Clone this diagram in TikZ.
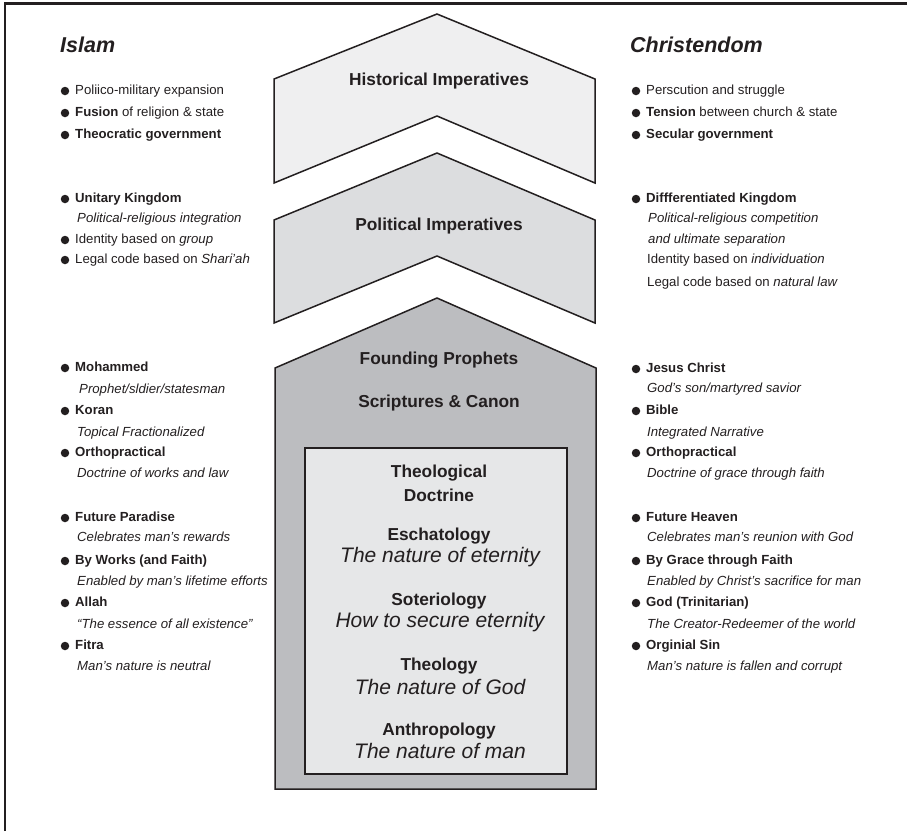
\documentclass[tikz,border=0pt]{standalone}
\usepackage{fontspec}
\setmainfont{Liberation Sans}
\definecolor{ink}{HTML}{231F20}
\definecolor{fillA}{HTML}{EFEFF0}
\definecolor{fillB}{HTML}{DCDDDF}
\definecolor{fillC}{HTML}{BCBDC0}
\definecolor{fillD}{HTML}{E6E7E8}
\newcommand\blt[4]{\node[bul] (#1b) at (#2,#3) {}; \node[lst] (#1) at (#2+10,#3) {#4};}
\newcommand\sub[4]{\node[lst] (#1) at (#2,#3) {#4};}
\begin{document}
\begin{tikzpicture}[x=1pt,y=-1pt,
  shp/.style={draw=ink, line width=1.5pt, line join=miter},
  lst/.style={anchor=west, inner sep=0pt, text=ink, font=\fontsize{13.2}{15}\selectfont, text height=9.5pt, text depth=2.5pt},
  bul/.style={circle, fill=ink, inner sep=0pt, minimum size=8.5pt},
  ttl/.style={anchor=west, inner sep=0pt, text=ink, font=\fontsize{21.5}{24}\selectfont\bfseries\itshape},
  hdr/.style={inner sep=0pt, text=ink, font=\fontsize{17.3}{20}\selectfont\bfseries},
  itl/.style={inner sep=0pt, text=ink, font=\fontsize{21}{24}\selectfont\itshape}]
\useasboundingbox (0,0) rectangle (907,831);
% frame
\draw[line width=2.2pt, ink] (5,831) -- (5,3.5) -- (907,3.5);
% shapes
\draw[shp, fill=fillA] (274,79) -- (437,14) -- (595,79) -- (595,183) -- (437,116) -- (274,183) -- cycle;
\draw[shp, fill=fillB] (274,220) -- (437,153) -- (595,220) -- (595,323) -- (437,256) -- (274,323) -- cycle;
\draw[shp, fill=fillC] (275,368) -- (437,298) -- (596,368) -- (596,789) -- (275,789) -- cycle;
\draw[shp, fill=fillD] (305,448) rectangle (567,774);
% center texts
\node[hdr] (hist) at (439,81) {Historical Imperatives};
\node[hdr] (pol) at (439,226) {Political Imperatives};
\node[hdr] (found) at (439,360) {Founding Prophets};
\node[hdr] (scr) at (439,403) {Scriptures \& Canon};
\node[hdr] (theo1) at (439,473) {Theological};
\node[hdr] (theo2) at (439,495) {Doctrine};
\node[hdr] (esc) at (439,536) {Eschatology};
\node[itl] (escI) at (440,557) {The nature of eternity};
\node[hdr] (sot) at (439,601) {Soteriology};
\node[itl] (sotI) at (440,622) {How to secure eternity};
\node[hdr] (thl) at (439,666) {Theology};
\node[itl] (thlI) at (440,687) {The nature of God};
\node[hdr] (ant) at (439,731) {Anthropology};
\node[itl] (antI) at (440,751) {The nature of man};
% titles
\node[ttl] (islam) at (60,45) {Islam};
\node[ttl] (chr) at (630,45) {Christendom};
% left column
\blt{l1}{65}{91}{Poliico-military expansion}
\blt{l2}{65}{113}{\textbf{Fusion} of religion \& state}
\blt{l3}{65}{135}{\textbf{Theocratic government}}
\blt{l4}{65}{199}{\textbf{Unitary Kingdom}}
\sub{l5}{77}{219}{\textit{Political-religious integration}}
\blt{l6}{65}{240}{Identity based on \textit{group}}
\blt{l7}{65}{260}{Legal code based on \textit{Shari’ah}}
\blt{l8}{65}{368}{\textbf{Mohammed}}
\sub{l9}{79}{390}{\textit{Prophet/sldier/statesman}}
\blt{l10}{65}{411}{\textbf{Koran}}
\sub{l11}{77}{433}{\textit{Topical Fractionalized}}
\blt{l12}{65}{453}{\textbf{Orthopractical}}
\sub{l13}{77}{474}{\textit{Doctrine of works and law}}
\blt{l14}{65}{518}{\textbf{Future Paradise}}
\sub{l15}{77}{538}{\textit{Celebrates man’s rewards}}
\blt{l16}{65}{561}{\textbf{By Works (and Faith)}}
\sub{l17}{77}{582}{\textit{Enabled by man’s lifetime efforts}}
\blt{l18}{65}{603}{\textbf{Allah}}
\sub{l19}{77}{625}{\textit{“The essence of all existence”}}
\blt{l20}{65}{646}{\textbf{Fitra}}
\sub{l21}{77}{667}{\textit{Man’s nature is neutral}}
% right column
\blt{r1}{636}{91}{Perscution and struggle}
\blt{r2}{636}{113}{\textbf{Tension} between church \& state}
\blt{r3}{636}{135}{\textbf{Secular government}}
\blt{r4}{636}{199}{\textbf{Diffferentiated Kingdom}}
\sub{r5}{648}{219}{\textit{Political-religious competition}}
\sub{r6}{648}{240}{\textit{and ultimate separation}}
\sub{r7}{647}{260}{Identity based on \textit{individuation}}
\sub{r8}{647}{283}{Legal code based on \textit{natural law}}
\blt{r9}{636}{369}{\textbf{Jesus Christ}}
\sub{r10}{647}{389}{\textit{God’s son/martyred savior}}
\blt{r11}{636}{411}{\textbf{Bible}}
\sub{r12}{647}{433}{\textit{Integrated Narrative}}
\blt{r13}{636}{453}{\textbf{Orthopractical}}
\sub{r14}{647}{474}{\textit{Doctrine of grace through faith}}
\blt{r15}{636}{518}{\textbf{Future Heaven}}
\sub{r16}{647}{538}{\textit{Celebrates man’s reunion with God}}
\blt{r17}{636}{561}{\textbf{By Grace through Faith}}
\sub{r18}{647}{582}{\textit{Enabled by Christ’s sacrifice for man}}
\blt{r19}{636}{603}{\textbf{God (Trinitarian)}}
\sub{r20}{647}{625}{\textit{The Creator-Redeemer of the world}}
\blt{r21}{636}{646}{\textbf{Orginial Sin}}
\sub{r22}{647}{667}{\textit{Man’s nature is fallen and corrupt}}
\end{tikzpicture}
\end{document}
